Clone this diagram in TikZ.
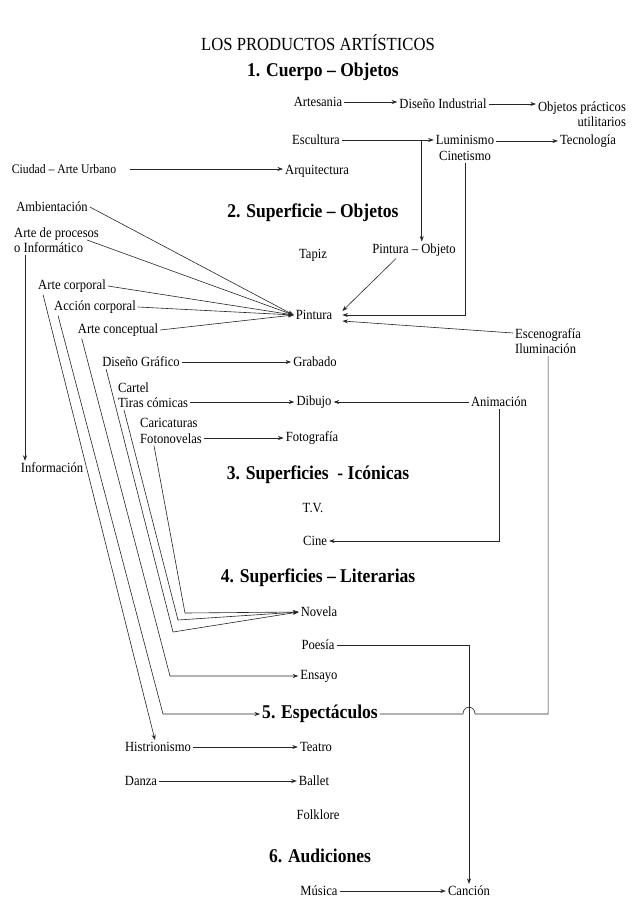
\documentclass[tikz,border=0pt]{standalone}
\usepackage{fontspec}
\setmainfont{Liberation Serif}[FakeStretch=0.9]
\usetikzlibrary{arrows.meta}
\begin{document}
\begin{tikzpicture}[x=1pt,y=-1pt,
  txt/.style={font=\fontsize{14}{15.5}\selectfont, inner sep=2pt},
  hd/.style={font=\fontsize{19.5}{22}\selectfont\bfseries, inner sep=2pt},
  ttl/.style={font=\fontsize{18.5}{21}\selectfont, inner sep=2pt},
  ln/.style={line width=0.6pt, black!85},
  arr/.style={ln, -{Stealth[length=5.5pt,width=4pt]}},
]
\fill[white] (0,0) rectangle (642,914);
\useasboundingbox (0,0) rectangle (642,914);

\node[ttl] (title) at (318,43) {LOS PRODUCTOS ARTÍSTICOS};
\node[hd] (h1) at (323,72) {1. Cuerpo – Objetos};
\node[txt] (artesania) at (318,102) {Artesania};
\node[txt] (disind) at (443,104) {Diseño Industrial};
\node[txt, align=right] (objprac) at (582,114) {Objetos prácticos\\utilitarios};
\node[txt] (escultura) at (316,140) {Escultura};
\node[txt, align=center] (lumin) at (465,148) {Luminismo\\Cinetismo};
\node[txt] (tecno) at (588,141) {Tecnología};
\node[txt, font=\fontsize{13}{15}\selectfont] (ciudad) at (64,169) {Ciudad – Arte Urbano};
\node[txt] (arqui) at (317,171) {Arquitectura};
\node[txt] (ambient) at (52,207) {Ambientación};
\node[hd] (h2) at (313,213) {2. Superficie – Objetos};
\node[txt, align=left, anchor=west] (procesos) at (12,240) {Arte de procesos\\o Informático};
\node[txt] (tapiz) at (313,255) {Tapiz};
\node[txt] (pobj) at (414,250) {Pintura – Objeto};
\node[txt] (artecorp) at (72,286) {Arte corporal};
\node[txt] (accion) at (95,307) {Acción corporal};
\node[txt] (concept) at (118,330) {Arte conceptual};
\node[txt] (pintura) at (314,315) {Pintura};
\node[txt, align=left, anchor=west] (esceno) at (513,341) {Escenografía\\Iluminación};
\node[txt] (disgraf) at (141,362) {Diseño Gráfico};
\node[txt] (grabado) at (315,362) {Grabado};
\node[txt, align=left, anchor=west] (cartel) at (116,395) {Cartel\\Tiras cómicas};
\node[txt] (dibujo) at (314,402) {Dibujo};
\node[txt] (animacion) at (499,402) {Animación};
\node[txt, align=left, anchor=west] (carica) at (138,431) {Caricaturas\\Fotonovelas};
\node[txt] (fotografia) at (312,438) {Fotografía};
\node[txt] (informacion) at (52,468) {Información};
\node[hd] (h3) at (318,475) {3. Superficies\ \ - Icónicas};
\node[txt] (tv) at (313,508) {T.V.};
\node[txt] (cine) at (315,541) {Cine};
\node[hd] (h4) at (318,578) {4. Superficies – Literarias};
\node[txt] (novela) at (319,612) {Novela};
\node[txt] (poesia) at (318,645) {Poesía};
\node[txt] (ensayo) at (319,676) {Ensayo};
\node[hd] (h5) at (320,714) {5. Espectáculos};
\node[txt] (histrion) at (158,747) {Histrionismo};
\node[txt] (teatro) at (316,747) {Teatro};
\node[txt] (danza) at (141,781) {Danza};
\node[txt] (ballet) at (314,781) {Ballet};
\node[txt] (folklore) at (318,815) {Folklore};
\node[hd] (h6) at (320,856) {6. Audiciones};
\node[txt] (musica) at (319,891) {Música};
\node[txt] (cancion) at (469,891) {Canción};

% section 1
\draw[arr] (artesania.east) -- (artesania.east -| disind.west);
\draw[arr] (disind.east) -- (disind.east -| objprac.west);
\draw[arr] (escultura.east) -- (escultura.east -| lumin.west);
\path (escultura.east -| lumin.west) ++(-12,0) coordinate (j1);
\draw[arr] (j1) -- (j1 |- pobj.north);
\draw[arr] (tecno.west -| lumin.east) -- (tecno.west);
\draw[arr, shorten <=12pt] (ciudad.east) -- (ciudad.east -| arqui.west);
\draw[arr] (lumin.south) |- ([xshift=8pt]pintura.east);
% into Pintura
\draw[arr] ([xshift=-18pt]pobj.south) -- ([xshift=8pt,yshift=4pt]pintura.east);
\draw[arr] ([yshift=8pt]esceno.west) -- ([xshift=8pt,yshift=-6pt]pintura.east);
\draw[arr] (ambient.east) -- (pintura.west);
\draw[arr] ([xshift=-14pt]procesos.east) -- (pintura.west);
\draw[arr] (artecorp.east) -- (pintura.west);
\draw[arr] (accion.east) -- (pintura.west);
\draw[arr] (concept.east) -- (pintura.west);
\coordinate (pi1) at ([xshift=13pt]procesos.south west);
\draw[arr] (pi1) -- (pi1 |- informacion.north);
% section 2-3
\draw[arr] (disgraf.east) -- (grabado.west);
\draw[arr] (cartel.east |- dibujo.west) -- (dibujo.west);
\draw[arr] (animacion.west) -- (dibujo.east);
\draw[arr] (animacion.south) |- (cine.east);
\draw[arr] (carica.east |- fotografia.west) -- (fotografia.west);
% long diagonals
\draw[arr] ([xshift=7pt]artecorp.south west) -- ([xshift=-3pt]histrion.north);
\coordinate (c2) at (h5.west -| 163,0);
\draw[arr] ([xshift=6pt]accion.south west) -- (c2) -- (h5.west);
\coordinate (c3) at (ensayo.west -| 170,0);
\draw[arr] ([xshift=6pt]concept.south west) -- (c3) -- (ensayo.west);
\coordinate (c4) at (173,632);
\coordinate (c5) at (178,620);
\coordinate (c6) at (185,613);
\draw[arr] ([xshift=6pt]disgraf.south west) -- (c4) -- (novela.west);
\draw[arr] ([xshift=8pt]cartel.south west) -- (c5) -- (novela.west);
\draw[arr] ([xshift=16pt]carica.south west) -- (c6) -- (novela.west);
% section 4-6
\draw[arr] (poesia.east) -| (cancion.north);
\coordinate (hx) at (cancion.north |- h5.east);
\draw[ln] (h5.east) -- ([xshift=-6pt]hx) .. controls ([xshift=-6pt,yshift=9pt]hx) and ([xshift=6pt,yshift=9pt]hx) .. ([xshift=6pt]hx) -- (esceno.south |- h5.east) -- (esceno.south);
\draw[arr] (histrion.east) -- (teatro.west);
\draw[arr] (danza.east) -- (ballet.west);
\draw[arr] (musica.east) -- (cancion.west);
\end{tikzpicture}
\end{document}
